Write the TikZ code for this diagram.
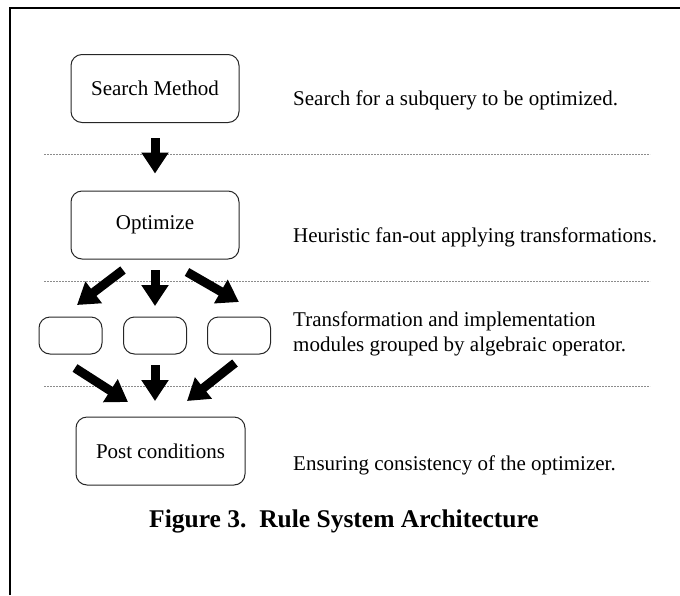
\documentclass[tikz,border=0pt]{standalone}
\usepackage{fontspec}
\setmainfont{Liberation Serif}
\usetikzlibrary{arrows.meta}
\begin{document}
\begin{tikzpicture}[x=1pt,y=-1pt,
  box/.style={draw=black!85,line width=1pt,rounded corners=11pt,inner sep=0pt,
    font=\fontsize{21}{25}\selectfont},
  smallbox/.style={box,minimum width=63pt,minimum height=37pt},
  bigbox/.style={box,minimum width=168pt,minimum height=68pt},
  desc/.style={anchor=base west,inner sep=0pt,align=left,font=\fontsize{21}{25}\selectfont},
  sep/.style={draw=black!45,line width=0.8pt,dash pattern=on 2pt off 1pt},
  fat/.style={line width=9pt,-{Triangle[width=26pt,length=21pt]}}]
\useasboundingbox (0,0) rectangle (680,595);
\draw[line width=2.4pt] (10,595) -- (10,8) -- (680,8);
% boxes
\node[bigbox] (sm) at (155,88.5) {Search Method};
\node[bigbox] (opt) at (155,225) {Optimize};
\node[smallbox] (m1) at (70.5,335.5) {};
\node[smallbox] (m2) at (155,335.5) {};
\node[smallbox] (m3) at (239,335.5) {};
\node[bigbox,minimum width=169pt] (post) at (160.5,451) {Post conditions};
% descriptions
\node[desc] (d1) at (293,105) {Search for a subquery to be optimized.};
\node[desc] (d2) at (293,242) {Heuristic fan-out applying transformations.};
\node[desc] (d3) at (293,351.7) {Transformation and implementation\\modules grouped by algebraic operator.};
\node[desc] (d4) at (293,470) {Ensuring consistency of the optimizer.};
% separators
\coordinate (s1a) at (44,154); \coordinate (s1b) at (650,154);
\coordinate (s2a) at (44,281); \coordinate (s2b) at (650,281);
\coordinate (s3a) at (44,386); \coordinate (s3b) at (650,386);
\draw[sep] (s1a) -- (s1b);
\draw[sep] (s2a) -- (s2b);
\draw[sep] (s3a) -- (s3b);
% arrows
\draw[fat,shorten <=15pt,shorten >=17pt] (sm.south) -- (opt.north);
\coordinate (f1a) at (123,270); \coordinate (f1b) at (77,305);
\coordinate (f2a) at (155,270); \coordinate (f2b) at (155,306);
\coordinate (f3a) at (187,272); \coordinate (f3b) at (239,302);
\draw[fat] (f1a) -- (f1b);
\draw[fat] (f2a) -- (f2b);
\draw[fat] (f3a) -- (f3b);
\coordinate (g1a) at (75,368); \coordinate (g1b) at (128,402);
\coordinate (g2a) at (155,365); \coordinate (g2b) at (155,401);
\coordinate (g3a) at (235,363); \coordinate (g3b) at (187,401);
\draw[fat] (g1a) -- (g1b);
\draw[fat] (g2a) -- (g2b);
\draw[fat] (g3a) -- (g3b);
% caption
\node[anchor=base,inner sep=0pt,font=\fontsize{25.5}{30}\selectfont\bfseries] (cap) at (344,527) {Figure 3.\ \ Rule System Architecture};
\end{tikzpicture}
\end{document}
